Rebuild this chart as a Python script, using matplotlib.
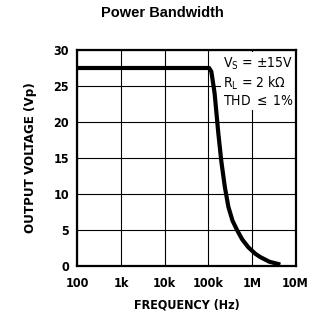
import matplotlib
matplotlib.use("Agg")
import matplotlib.pyplot as plt
import numpy as np

plt.rcParams['font.family'] = ['DejaVu Sans']
plt.rcParams['font.stretch'] = 'condensed'

freq_hz = [100, 1e3, 1e4, 1.05e5, 1.18e5, 1.4e5, 1.7e5, 2.0e5, 2.4e5, 2.9e5, 3.6e5, 4.57e5, 6.0e5, 8.3e5, 1.2e6, 1.55e6, 2.5e6, 4.5e6]
vout_vp = [27.5, 27.5, 27.5, 27.5, 27.0, 24.0, 18.5, 14.5, 11.0, 8.2, 6.3, 5.0, 3.7, 2.6, 1.7, 1.25, 0.6, 0.2]
xticks = [100, 1e3, 1e4, 1e5, 1e6, 1e7]
xticklabels = ['100', '1k', '10k', '100k', '1M', '10M']
yticks = [0, 5, 10, 15, 20, 25, 30]

fig = plt.figure(figsize=(3.24, 3.23), dpi=100)
ax = fig.add_axes([77.3/324, 1-266/323, (295.5-77.3)/324, (266-50)/323])

ax.plot(freq_hz, vout_vp, color='black', lw=3.0, solid_capstyle='butt', solid_joinstyle='round', zorder=3)
ax.set_xscale('log')
ax.set_xlim(100, 1e7)
ax.set_ylim(0, 30)
ax.set_xticks(xticks)
ax.set_xticklabels(xticklabels)
ax.set_yticks(yticks)
ax.minorticks_off()
ax.tick_params(length=0, labelsize=9)
ax.tick_params(axis='x', pad=8)
ax.tick_params(axis='y', pad=6)
for lbl in ax.get_xticklabels() + ax.get_yticklabels():
    lbl.set_fontweight('bold')
    lbl.set_fontstretch('condensed')
ax.grid(True, color='black', lw=0.8)
for s in ax.spines.values():
    s.set_linewidth(1.6)

ax.set_xlabel('FREQUENCY (Hz)', fontsize=9, fontweight='bold', fontstretch='condensed', labelpad=6)
ax.set_ylabel('OUTPUT VOLTAGE (Vp)', fontsize=9.5, fontweight='semibold', fontstretch='condensed', labelpad=12)

ax.text(0.67, 0.975, 'V$_\\mathregular{S}$ = $\\pm$15V\nR$_\\mathregular{L}$ = 2 k$\\Omega$\nTHD $\\leq$ 1%',
        transform=ax.transAxes, ha='left', va='top', fontsize=10, linespacing=1.2, fontstretch='condensed',
        bbox=dict(facecolor='white', edgecolor='none', pad=1.5), zorder=2)

fig.text(0.5, 1-13/323, 'Power Bandwidth', ha='center', va='center', fontsize=10.5,
         fontweight='bold', family=['Liberation Sans', 'DejaVu Sans'], fontstretch='normal')

fig.savefig('out.png', dpi=100)
